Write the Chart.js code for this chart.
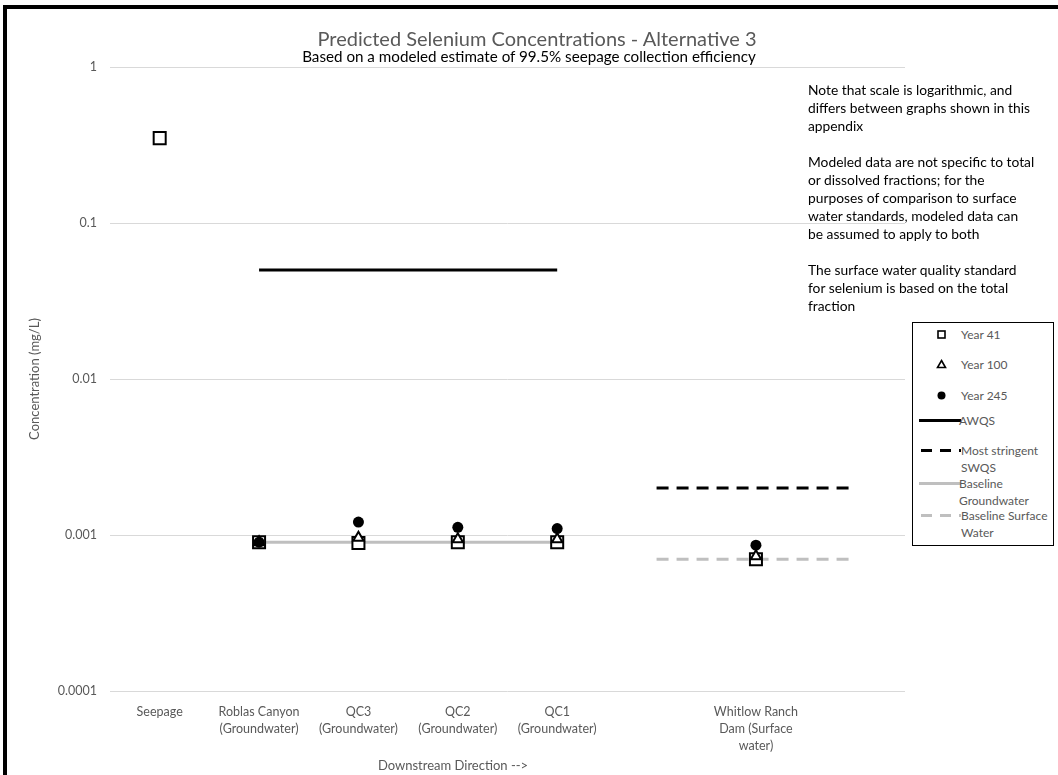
<!DOCTYPE html>
<html>
<head>
<meta charset="utf-8">
<script src="https://cdn.jsdelivr.net/npm/chart.js@4.4.1/dist/chart.umd.min.js"></script>
<style>
    body { margin: 0; background: #fff; font-family: Lato, "Open Sans", sans-serif; }
    #wrap { position: relative; width: 1058px; height: 775px; overflow: hidden; }
    #frame { position: absolute; left: 3px; top: 5px; width: 1100px; height: 800px;
             border-left: 4px solid #000; border-top: 4px solid #000; }
    canvas { position: absolute; left: 0; top: 0; }
    .t { position: absolute; white-space: nowrap; line-height: 18px; }
    .c { transform: translateX(-50%); }
    #notes { left: 808px; top: 81px; font-size: 13.8px; color: #000; }
    #legend { position: absolute; left: 912px; top: 322px; width: 140px; height: 222px;
              border: 1.5px solid #000; background: #fff; }
    .li { position: absolute; left: 0; font-size: 12px; color: #595959; line-height: 17px; }
    .li svg { position: absolute; left: 4px; top: 0; }
    .li span { position: absolute; left: 48px; white-space: nowrap; }
</style>
</head>
<body>
<div id="wrap">
    <div id="frame"></div>
    <canvas id="chart" width="1058" height="775"></canvas>

    <div class="t c" style="left:537px;top:27px;font-size:20px;color:#595959;line-height:22px">Predicted Selenium Concentrations - Alternative 3</div>
    <div class="t c" style="left:529px;top:47px;font-size:15.2px;color:#000">Based on a modeled estimate of 99.5% seepage collection efficiency</div>

    <div class="t" id="notes">
        Note that scale is logarithmic, and<br>
        differs between graphs shown in this<br>
        appendix<br><br>
        Modeled data are not specific to total<br>
        or dissolved fractions; for the<br>
        purposes of comparison to surface<br>
        water standards, modeled data can<br>
        be assumed to apply to both<br><br>
        The surface water quality standard<br>
        for selenium is based on the total<br>
        fraction
    </div>

    <div class="t c" style="left:453px;top:756px;font-size:13px;color:#595959">Downstream Direction --&gt;</div>

    <div id="legend">
        <div class="li" style="top:3px">
            <svg width="40" height="17"><rect x="21" y="5" width="7" height="7" fill="#fff" stroke="#000" stroke-width="1.6"/></svg>
            <span>Year 41</span>
        </div>
        <div class="li" style="top:33px">
            <svg width="40" height="17"><polygon points="24.5,4.5 28.5,11.5 20.5,11.5" fill="#fff" stroke="#000" stroke-width="1.6"/></svg>
            <span>Year 100</span>
        </div>
        <div class="li" style="top:64px">
            <svg width="40" height="17"><circle cx="24.5" cy="8.5" r="4" fill="#000"/></svg>
            <span>Year 245</span>
        </div>
        <div class="li" style="top:89px">
            <svg width="44" height="17"><line x1="2" y1="8.5" x2="44" y2="8.5" stroke="#000" stroke-width="3"/></svg>
            <span style="left:46px">AWQS</span>
        </div>
        <div class="li" style="top:119px">
            <svg width="44" height="17"><line x1="4" y1="8.5" x2="44" y2="8.5" stroke="#000" stroke-width="3" stroke-dasharray="11 8"/></svg>
            <span>Most stringent<br>SWQS</span>
        </div>
        <div class="li" style="top:152px">
            <svg width="44" height="17"><line x1="2" y1="8.5" x2="44" y2="8.5" stroke="#bfbfbf" stroke-width="3"/></svg>
            <span style="left:46px">Baseline<br>Groundwater</span>
        </div>
        <div class="li" style="top:184px">
            <svg width="44" height="17"><line x1="4" y1="8.5" x2="44" y2="8.5" stroke="#bfbfbf" stroke-width="3" stroke-dasharray="11 8"/></svg>
            <span>Baseline Surface<br>Water</span>
        </div>
    </div>
</div>

<script>
// Locations along the drainage (two empty slots keep the spacing of the original)
const categories = [
    "Seepage",
    ["Roblas Canyon", "(Groundwater)"],
    ["QC3", "(Groundwater)"],
    ["QC2", "(Groundwater)"],
    ["QC1", "(Groundwater)"],
    "",
    ["Whitlow Ranch", "Dam (Surface", "water)"],
    ""
];

// Predicted selenium concentrations (mg/L)
const year41  = [0.35, 0.0009, 0.00089, 0.0009, 0.0009, null, 0.0007, null];
const year100 = [null, 0.0009, 0.00096, 0.00094, 0.00094, null, 0.00073, null];
const year245 = [null, 0.0009, 0.00121, 0.00112, 0.0011, null, 0.00086, null];

// Standards and baselines (mg/L)
const awqs         = [null, 0.05, 0.05, 0.05, 0.05, null, null, null];
const swqs         = [null, null, null, null, null, 0.002, 0.002, 0.002];
const baselineGw   = [null, 0.0009, 0.0009, 0.0009, 0.0009, null, null, null];
const baselineSw   = [null, null, null, null, null, 0.0007, 0.0007, 0.0007];

const yTicks = [0.0001, 0.001, 0.01, 0.1, 1];

const axisGrey = "#595959";

const chart = new Chart(document.getElementById("chart"), {
    type: 'line',
    data: {
        labels: categories,
        datasets: [
            {
                label: "Year 245",
                data: year245,
                showLine: false,
                pointStyle: 'circle',
                pointRadius: 5.5,
                pointBackgroundColor: "#000",
                pointBorderColor: "#000",
                pointBorderWidth: 0,
                order: 0
            },
            {
                label: "Year 100",
                data: year100,
                showLine: false,
                pointStyle: 'triangle',
                pointRadius: 6,
                pointBackgroundColor: "#fff",
                pointBorderColor: "#000",
                pointBorderWidth: 2,
                order: 1
            },
            {
                label: "Year 41",
                data: year41,
                showLine: false,
                pointStyle: 'rect',
                pointRadius: 8.5,
                pointBackgroundColor: "#fff",
                pointBorderColor: "#000",
                pointBorderWidth: 2,
                order: 2
            },
            {
                label: "AWQS",
                data: awqs,
                borderColor: "#000",
                borderWidth: 3,
                pointRadius: 0,
                order: 3
            },
            {
                label: "Most stringent SWQS",
                data: swqs,
                borderColor: "#000",
                borderWidth: 3,
                borderDash: [12, 8],
                pointRadius: 0,
                order: 4
            },
            {
                label: "Baseline Groundwater",
                data: baselineGw,
                borderColor: "#bfbfbf",
                borderWidth: 3,
                pointRadius: 0,
                order: 5
            },
            {
                label: "Baseline Surface Water",
                data: baselineSw,
                borderColor: "#bfbfbf",
                borderWidth: 3,
                borderDash: [12, 8],
                pointRadius: 0,
                order: 6
            }
        ]
    },
    options: {
        responsive: false,
        animation: false,
        spanGaps: false,
        layout: {
            padding: { left: 8, right: 153, top: 67, bottom: 0 }
        },
        plugins: {
            legend: { display: false },
            tooltip: { enabled: false }
        },
        scales: {
            x: {
                offset: true,
                grid: { display: false },
                border: { display: false },
                ticks: {
                    color: axisGrey,
                    font: { family: "Lato", size: 12.5, lineHeight: 1.36 },
                    padding: 4,
                    maxRotation: 0,
                    autoSkip: false
                },
                afterFit: (scale) => { scale.height = 84; }
            },
            y: {
                type: 'logarithmic',
                min: 0.0001,
                max: 1,
                afterBuildTicks: (scale) => {
                    scale.ticks = yTicks.map(v => ({ value: v }));
                },
                grid: { color: "#d9d9d9", lineWidth: 1, drawTicks: false },
                border: { display: false },
                ticks: {
                    color: axisGrey,
                    font: { family: "Lato", size: 12.5 },
                    padding: 13,
                    callback: (v) => String(v)
                },
                title: {
                    display: true,
                    text: "Concentration (mg/L)",
                    color: axisGrey,
                    font: { family: "Lato", size: 13 },
                    padding: { top: 19, bottom: 4 }
                },
                afterFit: (scale) => { scale.width = 102; }
            }
        }
    }
});
</script>
</body>
</html>
